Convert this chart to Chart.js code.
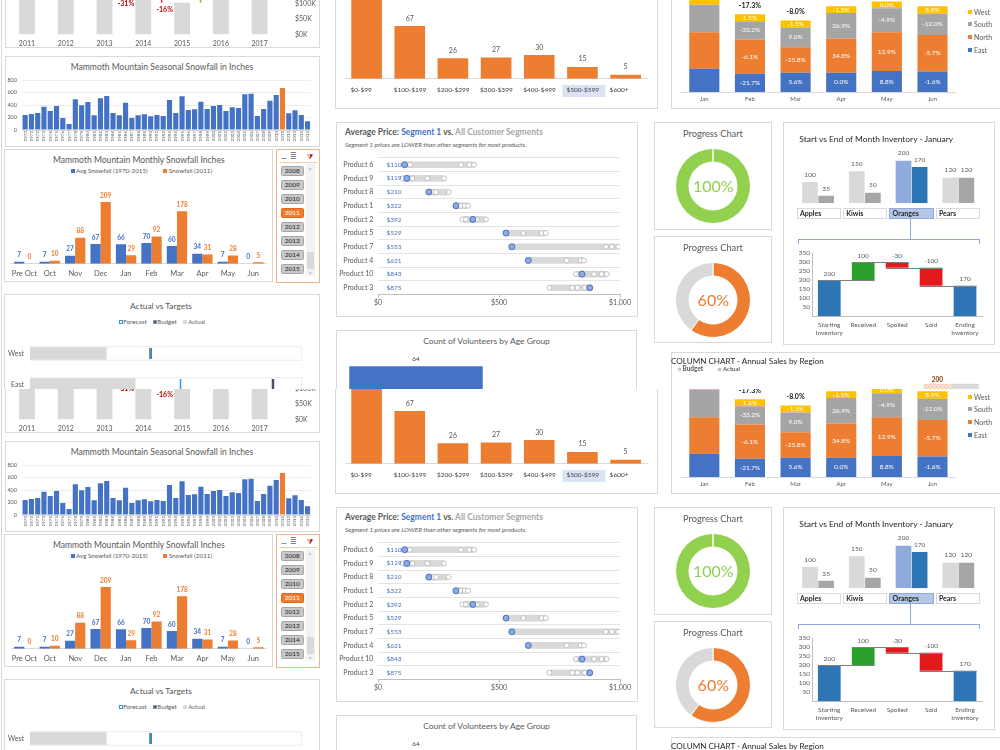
<!DOCTYPE html>
<html>
<head>
<meta charset="utf-8">
<title>Dashboard</title>
<script src="https://cdn.jsdelivr.net/npm/chart.js@4.4.1/dist/chart.umd.min.js"></script>
<style>
  html, body { margin: 0; padding: 0; background: #fff; }
  body { width: 1000px; height: 750px; position: relative; overflow: hidden; font-family: Lato, "Open Sans", sans-serif; }
  .clip { position: absolute; left: 0; width: 1000px; overflow: hidden; }
  .tile { position: absolute; left: 0; width: 1000px; height: 430px; }
  .box { position: absolute; box-sizing: border-box; border: 1px solid #D9D9D9; }
  .blk { position: absolute; box-sizing: border-box; }
  .txt { position: absolute; white-space: nowrap; line-height: 1; color: #595959; }
  canvas { position: absolute; }
</style>
</head>
<body>
<div class="clip" id="clipA" style="top:0;height:389px"></div>
<div class="clip" id="clipB" style="top:389px;height:361px"></div>
<script>
// ---- data ----
const annualYears = ['2011', '2012', '2013', '2014', '2015', '2016', '2017'];
const annualSales = [150000, 160000, 178000, 123000, 103000, 140000, 155000];

const seasonYears = ['1970', '1971', '1972', '1973', '1974', '1975', '1976', '1977', '1978', '1979',
  '1980', '1981', '1982', '1983', '1984', '1985', '1986', '1987', '1988', '1989',
  '1990', '1991', '1992', '1993', '1994', '1995', '1996', '1997', '1998', '1999',
  '2000', '2001', '2002', '2003', '2004', '2005', '2006', '2007', '2008', '2009',
  '2010', '2011', '2012', '2013', '2014', '2015'];
const seasonSnow = [240, 256, 272, 373, 304, 384, 192, 96, 491, 395,
  448, 235, 507, 544, 272, 235, 437, 192, 235, 251,
  219, 240, 224, 480, 272, 539, 320, 331, 453, 336,
  384, 400, 304, 363, 352, 571, 581, 224, 336, 469,
  560, 672, 267, 315, 240, 139];
const seasonPick = '2011';

const monthCats = ['Pre Oct', 'Oct', 'Nov', 'Dec', 'Jan', 'Feb', 'Mar', 'Apr', 'May', 'Jun'];
const avgSnow = [7, 7, 27, 67, 66, 70, 60, 34, 7, 0];
const snow2011 = [0, 10, 88, 209, 29, 92, 178, 31, 28, 5];
const slicerYears = ['2008', '2009', '2010', '2011', '2012', '2013', '2014', '2015'];

const targetRegions = ['West', 'East'];
const targetActual = [84, 116];
const targetForecast = [133, 166];
const targetBudget = [133, 268];
const targetMax = 300;

const priceBins = ['$0-$99', '$100-$199', '$200-$299', '$300-$399', '$400-$499', '$500-$599', '$600+'];
const priceCounts = [120, 67, 26, 27, 30, 15, 5];
const priceBinPick = '$500-$599';

const products = ['Product 6', 'Product 9', 'Product 8', 'Product 1', 'Product 2',
  'Product 5', 'Product 7', 'Product 4', 'Product 10', 'Product 3'];
const seg1Price = [110, 119, 210, 322, 392, 529, 553, 621, 843, 875];
const otherSegPrices = [[132, 343, 377, 397], [102, 142, 204, 273], [228, 240, 292], [340, 358, 372],
  [349, 363, 408, 446], [601, 676, 693], [942, 966, 993], [780, 838, 851],
  [818, 893, 924, 945], [708, 803, 824, 855]];

const progressValues = [100, 60];

const fruits = ['Apples', 'Kiwis', 'Oranges', 'Pears'];
const fruitStart = [100, 150, 200, 120];
const fruitEnd = [35, 50, 170, 120];
const fruitPick = 'Oranges';
const flowSteps = [['Starting', 'Inventory'], 'Received', 'Spoiled', 'Sold', ['Ending', 'Inventory']];
const flowValues = [200, 100, -30, -100, 170];
const flowTotals = [true, false, false, false, true];

const salesMonths = ['Jan', 'Feb', 'Mar', 'Apr', 'May', 'Jun'];
const eastSales = [233, 182, 193, 193, 210, 206];
const northSales = [365, 343, 254, 343, 387, 365];
const southSales = [274, 183, 199, 253, 241, 212];
const westSales = [69, 70, 69, 68, 68, 74];
const eastPct = ['', '-21.7%', '5.6%', '0.0%', '8.8%', '-1.6%'];
const northPct = ['', '-6.1%', '-25.8%', '34.8%', '12.9%', '-5.7%'];
const southPct = ['', '-33.2%', '9.0%', '26.9%', '-4.9%', '-12.0%'];
const westPct = ['', '1.5%', '-1.5%', '-1.5%', '0.0%', '8.9%'];
const totalPct = ['', '-17.3%', '-8.0%', '', '', ''];

const regionNames = ['East', 'North', 'South', 'West'];
const regionBudget = [150, 165, 140, 200];
const regionActual = [140, 150, 130, 200];

const volunteerGroups = ['18-24'];
const volunteerCounts = [64];

// ---- colours ----
const BLUE = '#4472C4';
const ORANGE = '#ED7D31';
const LIGHT = '#D9D9D9';
const TXT = '#595959';

Chart.defaults.font.family = 'Lato';
Chart.defaults.color = TXT;
Chart.defaults.animation = false;
Chart.defaults.events = [];
Chart.defaults.plugins.legend.display = false;
Chart.defaults.plugins.tooltip.enabled = false;

// labels above / inside bars
Chart.register({
  id: 'valueLabels',
  afterDatasetsDraw(chart, args, opts) {
    const ctx = chart.ctx;
    (opts.sets || []).forEach(s => {
      const meta = chart.getDatasetMeta(s.index);
      meta.data.forEach((bar, i) => {
        const t = s.labels ? s.labels[i] : chart.data.datasets[s.index].data[i];
        if (t === '' || t == null) return;
        const top = Math.min(bar.y, bar.base);
        const y = s.center ? (bar.y + bar.base) / 2 : top - (s.offset || 7);
        ctx.save();
        ctx.font = s.font || 'bold 6.5px Lato';
        ctx.fillStyle = Array.isArray(s.color) ? s.color[i] : (s.color || TXT);
        ctx.textAlign = 'center';
        ctx.textBaseline = 'middle';
        ctx.fillText(t, bar.x, y);
        ctx.restore();
      });
    });
  }
});

// ---- little helpers ----
function canvasAt(p, x, y, w, h) {
  const c = document.createElement('canvas');
  c.width = w; c.height = h;
  c.style.left = x + 'px'; c.style.top = y + 'px';
  c.style.width = w + 'px'; c.style.height = h + 'px';
  p.appendChild(c);
  return c;
}
function box(p, x, y, w, h, color) {
  const d = document.createElement('div');
  d.className = 'box';
  d.style.cssText += `left:${x}px;top:${y}px;width:${w}px;height:${h}px;`;
  if (color) d.style.borderColor = color;
  p.appendChild(d);
  return d;
}
function rect(p, x, y, w, h, bg) {
  const d = document.createElement('div');
  d.className = 'blk';
  d.style.cssText += `left:${x}px;top:${y}px;width:${w}px;height:${h}px;background:${bg};`;
  p.appendChild(d);
  return d;
}
function txt(p, s, x, y, o = {}) {
  const d = document.createElement('div');
  d.className = 'txt';
  d.textContent = s;
  const size = o.size || 7;
  const tx = o.align === 'center' ? '-50%' : o.align === 'right' ? '-100%' : '0';
  d.style.left = x + 'px';
  d.style.top = y + 'px';
  d.style.fontSize = size + 'px';
  d.style.color = o.color || TXT;
  if (o.bold) d.style.fontWeight = 'bold';
  if (o.italic) d.style.fontStyle = 'italic';
  d.style.transform = `translate(${tx},-50%)`;
  p.appendChild(d);
  if (o.w) {
    const cur = d.getBoundingClientRect().width;
    if (cur > 0) d.style.fontSize = (size * o.w / cur) + 'px';
  }
  return d;
}
// grid off AND no tick marks, so Chart.js adds no tick length to label offsets
const noGrid = { display: false, drawTicks: false };
const noBorder = { display: false };
// vertical axes: gap between labels and plot through an invisible tick length
// (ticks.padding would also pad the plot top and bottom)
const gapGrid = n => ({ display: false, drawTicks: true, tickLength: n });

function waterfallRanges() {
  let run = 0;
  return flowValues.map((v, i) => {
    if (flowTotals[i]) { run = v; return [0, v]; }
    const r = [run, run + v];
    run += v;
    return r;
  });
}

const variancePlugin = {
  id: 'variance',
  afterDatasetsDraw(chart) {
    const { ctx, scales: { x, y } } = chart;
    const d = chart.data.datasets[0].data;
    for (let i = 0; i < d.length - 1; i++) {
      const pct = Math.round((d[i + 1] / d[i] - 1) * 100);
      const xm = (x.getPixelForValue(i) + x.getPixelForValue(i + 1)) / 2;
      const ya = y.getPixelForValue(d[i]), yb = y.getPixelForValue(d[i + 1]);
      const neg = pct < 0;
      ctx.save();
      ctx.strokeStyle = neg ? '#E03030' : '#70C040';
      ctx.lineWidth = 1.5;
      ctx.beginPath(); ctx.moveTo(xm - 1, ya); ctx.lineTo(xm - 1, yb); ctx.stroke();
      ctx.font = 'bold 7px Lato';
      ctx.fillStyle = neg ? '#C00000' : '#548235';
      ctx.textAlign = 'center';
      ctx.textBaseline = 'middle';
      const ty = neg ? Math.max(ya, yb) + 7.5 : Math.min(ya, yb) - 7.5;
      ctx.fillText((pct > 0 ? '+' : '') + pct + '%', xm + 2, ty);
      ctx.restore();
    }
  }
};

const binHighlight = {
  id: 'binHighlight',
  beforeDraw(chart) {
    const x = chart.scales.x;
    const i = chart.data.labels.indexOf(priceBinPick);
    if (i < 0) return;
    const ctx = chart.ctx;
    ctx.save();
    ctx.fillStyle = '#DAE3F3';
    ctx.fillRect(x.getPixelForValue(i) - 20, x.top + 6.3, 43, 12);
    ctx.restore();
  }
};

const priceTags = {
  id: 'priceTags',
  afterDatasetsDraw(chart) {
    const { ctx, chartArea, scales: { y } } = chart;
    ctx.save();
    ctx.font = '6.5px Lato';
    ctx.fillStyle = BLUE;
    ctx.textBaseline = 'middle';
    seg1Price.forEach((v, i) => ctx.fillText('$' + v, chartArea.left + 8.5, y.getPixelForValue(i)));
    ctx.restore();
  }
};

const flowLinks = {
  id: 'flowLinks',
  afterDatasetsDraw(chart) {
    const { ctx, scales: { y } } = chart;
    const bars = chart.getDatasetMeta(0).data;
    const ranges = chart.data.datasets[0].data;
    ctx.save();
    ctx.strokeStyle = '#7F7F7F';
    ctx.lineWidth = 1;
    for (let i = 0; i < bars.length - 1; i++) {
      const py = Math.round(y.getPixelForValue(ranges[i][1])) + 0.5;
      ctx.beginPath();
      ctx.moveTo(bars[i].x - bars[i].width / 2, py);
      ctx.lineTo(bars[i + 1].x + bars[i + 1].width / 2, py);
      ctx.stroke();
    }
    ctx.restore();
  }
};

function hatch() {
  const c = document.createElement('canvas');
  c.width = 4; c.height = 4;
  const g = c.getContext('2d');
  g.fillStyle = '#FBE2D0'; g.fillRect(0, 0, 4, 4);
  g.fillStyle = '#F4B183'; g.fillRect(0, 0, 1, 1); g.fillRect(2, 2, 1, 1);
  return g.createPattern(c, 'repeat');
}

function buildTile(tile) {
  rect(tile, 1, -10, 1, 440, LIGHT);

  // ===== annual sales (only the bottom is showing) =====
  box(tile, 5, -20, 315, 67.5);
  new Chart(canvasAt(tile, 5, -124, 315, 171), {
    type: 'bar',
    data: { labels: annualYears, datasets: [{ data: annualSales, backgroundColor: LIGHT, categoryPercentage: 0.82, barPercentage: 0.5 }] },
    options: {
      responsive: false,
      layout: { padding: { left: 2.6 } },
      scales: {
        x: { grid: noGrid, border: noBorder, ticks: { font: { size: 7 }, padding: 4.6, maxRotation: 0 }, afterFit: s => { s.height = 12.5; } },
        y: { position: 'right', min: 0, max: 500000, grid: gapGrid(16), border: noBorder,
          ticks: { stepSize: 50000, padding: 0, font: { size: 7 }, callback: v => '$' + v / 1000 + 'K' },
          afterFit: s => { s.width = 41; } }
      }
    },
    plugins: [variancePlugin]
  });

  // ===== seasonal snowfall =====
  box(tile, 5, 55.5, 314.5, 91.5);
  txt(tile, 'Mammoth Mountain Seasonal Snowfall in Inches', 162, 66.5, { size: 10, align: 'center', w: 183 });
  new Chart(canvasAt(tile, 6, 72, 308, 74), {
    type: 'bar',
    data: { labels: seasonYears, datasets: [{ data: seasonSnow, backgroundColor: seasonYears.map(y => y === seasonPick ? ORANGE : BLUE), categoryPercentage: 1, barPercentage: 0.82 }] },
    options: {
      responsive: false,
      layout: { padding: { top: 8, right: 2 } },
      scales: {
        x: { grid: noGrid, border: { color: LIGHT }, ticks: { autoSkip: false, minRotation: 90, maxRotation: 90, font: { size: 4.5 }, padding: 1 }, afterFit: s => { s.height = 16; } },
        y: { min: 0, max: 800, grid: { color: '#EDEDED', drawTicks: true, tickLength: 5, tickColor: 'rgba(0,0,0,0)' }, border: noBorder,
          ticks: { stepSize: 100, font: { size: 5.5 }, padding: 0 }, afterFit: s => { s.width = 16; } }
      }
    }
  });

  // ===== monthly snowfall =====
  box(tile, 4, 149, 268.5, 133);
  txt(tile, 'Mammoth Mountain Monthly Snowfall Inches', 138.8, 160, { size: 10, align: 'center', w: 172 });
  rect(tile, 71, 169.3, 3.5, 3.5, BLUE);
  txt(tile, 'Avg Snowfall (1970-2015)', 76, 171, { size: 7, w: 71.7 });
  rect(tile, 163.3, 169.3, 3.5, 3.5, ORANGE);
  txt(tile, 'Snowfall (2011)', 168.7, 171, { size: 7, w: 43.6 });
  new Chart(canvasAt(tile, 6, 190, 264, 92), {
    type: 'bar',
    data: {
      labels: monthCats,
      datasets: [
        { label: 'Avg Snowfall (1970-2015)', data: avgSnow, backgroundColor: BLUE, categoryPercentage: 0.8, barPercentage: 1 },
        { label: 'Snowfall (2011)', data: snow2011, backgroundColor: ORANGE, categoryPercentage: 0.8, barPercentage: 1 }
      ]
    },
    options: {
      responsive: false,
      layout: { padding: { left: 5, right: 4 } },
      scales: {
        x: { grid: noGrid, border: { color: LIGHT }, ticks: { font: { size: 7.5 }, padding: 5.5, maxRotation: 0, autoSkip: false }, afterFit: s => { s.height = 18.25; } },
        y: { display: false, min: 0, max: 250 }
      },
      plugins: { valueLabels: { sets: [
        { index: 0, color: BLUE, offset: 6.5 },
        { index: 1, color: ORANGE, offset: 6.5 }
      ] } }
    }
  });

  // year slicer
  box(tile, 276, 149, 43.5, 133.5, '#F4B183');
  txt(tile, '...', 281.5, 155.5, { size: 7, color: '#404040', bold: true });
  txt(tile, '\u2263', 290, 156, { size: 8, color: '#7F7F7F' });
  txt(tile, '\u29E9', 306.5, 156, { size: 7, color: '#C00000' });
  rect(tile, 279, 161.5, 38, 1, '#F8CBAD');
  rect(tile, 306, 164, 8.5, 112, '#F2F2F2');
  rect(tile, 306.5, 251.5, 7.5, 17.5, LIGHT);
  txt(tile, '\u02C4', 310.2, 170, { size: 6, align: 'center', color: '#7F7F7F' });
  txt(tile, '\u02C5', 310.2, 274, { size: 6, align: 'center', color: '#7F7F7F' });
  slicerYears.forEach((yr, i) => {
    const on = yr === '2011';
    const b = rect(tile, 281, 165.7 + 14 * i, 22.5, 10, on ? ORANGE : '#C8C8C8');
    b.style.border = '1px solid ' + (on ? '#E0661C' : '#A6A6A6');
    b.style.borderRadius = '1.5px';
    txt(tile, yr, 292.3, 170.9 + 14 * i, { size: 6.5, align: 'center', color: on ? '#FFFFFF' : '#262626' });
  });

  // ===== actual vs targets =====
  box(tile, 4, 294, 315.5, 140);
  txt(tile, 'Actual vs Targets', 161, 305.7, { size: 10, align: 'center', w: 62 });
  const fc = rect(tile, 119.3, 320.3, 3.5, 3.5, '#FFFFFF'); fc.style.border = '1px solid #2E9BDA';
  txt(tile, 'Forecast', 123.3, 322, { size: 6.5, w: 23.4 });
  const bu = rect(tile, 152.7, 320, 4, 4, '#44546A'); bu.style.border = '1px solid #8497B0';
  txt(tile, 'Budget', 157.3, 322, { size: 6.5, w: 19.4 });
  rect(tile, 183.3, 320.3, 3.5, 3.5, LIGHT);
  txt(tile, 'Actual', 188.3, 322, { size: 6.5, w: 16.7 });
  new Chart(canvasAt(tile, 4, 330, 306, 78), {
    type: 'bar',
    data: {
      labels: targetRegions,
      datasets: [
        { type: 'scatter', label: 'Forecast', data: targetForecast.map((v, i) => ({ x: v, y: targetRegions[i] })),
          pointStyle: 'line', pointRotation: 90, pointRadius: 5.5, pointBorderWidth: 1.5, pointBorderColor: '#2E9BDA', order: 1 },
        { type: 'scatter', label: 'Budget', data: targetBudget.map((v, i) => ({ x: v, y: targetRegions[i] })),
          pointStyle: 'line', pointRotation: 90, pointRadius: 5.5, pointBorderWidth: 2.5, pointBorderColor: '#44546A', order: 2 },
        { label: 'Actual', data: targetActual, backgroundColor: LIGHT, barThickness: 11.6, grouped: false, order: 3 },
        { label: 'Track', data: targetRegions.map(() => targetMax), backgroundColor: '#FFFFFF', borderColor: '#E4E4E4', borderWidth: 1, barThickness: 14, grouped: false, order: 4 }
      ]
    },
    options: {
      responsive: false,
      indexAxis: 'y',
      layout: { padding: { top: 5, bottom: 5, right: 3.3 } },
      scales: {
        x: { type: 'linear', display: false, min: 0, max: targetMax },
        y: { type: 'category', grid: gapGrid(6), border: noBorder, ticks: { font: { size: 7 }, padding: 0 }, afterFit: s => { s.width = 26; } }
      }
    }
  });

  // ===== price histogram (bottom part) =====
  box(tile, 335, -20, 323, 128.5);
  new Chart(canvasAt(tile, 340, -55, 312, 155), {
    type: 'bar',
    data: { labels: priceBins, datasets: [{ data: priceCounts, backgroundColor: ORANGE, categoryPercentage: 1, barPercentage: 0.71 }] },
    options: {
      responsive: false,
      layout: { padding: { left: 5, right: 2 } },
      scales: {
        x: { grid: noGrid, border: { color: LIGHT }, ticks: { font: { size: 6.5 }, color: '#404040', align: 'start', labelOffset: -16, padding: 7.4, maxRotation: 0 }, afterFit: s => { s.height = 21.3; } },
        y: { display: false, min: 0, max: 170 }
      },
      plugins: { valueLabels: { sets: [{ index: 0, color: TXT, offset: 7.7, font: '7px Lato' }] } }
    },
    plugins: [binHighlight]
  });

  // ===== average price dot plot =====
  box(tile, 336, 122, 302, 195);
  const tt = document.createElement('div');
  tt.className = 'txt';
  tt.style.cssText += 'left:345px;top:132px;font-size:9px;font-weight:bold;transform:translate(0,-50%);';
  tt.innerHTML = '<span style="color:#595959">Average Price: </span><span style="color:#4472C4">Segment 1</span>' +
    '<span style="color:#595959"> vs. </span><span style="color:#A6A6A6">All Customer Segments</span>';
  tile.appendChild(tt);
  tt.style.fontSize = (9 * 198 / tt.getBoundingClientRect().width) + 'px';
  txt(tile, 'Segment 1 prices are LOWER than other segments for most products.', 345, 145, { size: 5.5, italic: true, w: 182 });
  const dotRanges = products.map((p, i) => [Math.min(seg1Price[i], ...otherSegPrices[i]), Math.max(seg1Price[i], ...otherSegPrices[i])]);
  const otherPts = [];
  otherSegPrices.forEach((arr, i) => arr.forEach(v => otherPts.push({ x: v, y: products[i] })));
  new Chart(canvasAt(tile, 336, 152, 300, 158), {
    type: 'bar',
    data: {
      labels: products,
      datasets: [
        { type: 'scatter', label: 'Segment 1', data: seg1Price.map((v, i) => ({ x: v, y: products[i] })),
          pointRadius: 3, pointBackgroundColor: '#8FAADC', pointBorderColor: BLUE, pointBorderWidth: 1, order: 1 },
        { type: 'scatter', label: 'Other segments', data: otherPts,
          pointRadius: 2.5, pointBackgroundColor: '#FFFFFF', pointBorderColor: '#BFBFBF', pointBorderWidth: 1, order: 2 },
        { label: 'Range', data: dotRanges, backgroundColor: LIGHT, barThickness: 6, borderRadius: 3, borderSkipped: false, order: 3 }
      ]
    },
    options: {
      responsive: false,
      indexAxis: 'y',
      layout: { padding: { top: 5.9, right: 16 } },
      scales: {
        x: { type: 'linear', min: 0, max: 1000,
          grid: { drawOnChartArea: false, drawTicks: true, tickLength: 3, color: '#BFBFBF' }, border: { color: '#BFBFBF' },
          ticks: { stepSize: 500, font: { size: 7 }, padding: 1.3, callback: v => '$' + v.toLocaleString('en-US') },
          afterFit: s => { s.height = 15.4; } },
        y: { type: 'category', grid: { offset: true, color: '#E4E4E4', drawTicks: true, tickLength: 4.7, tickColor: 'rgba(0,0,0,0)' }, border: noBorder,
          ticks: { font: { size: 7 }, padding: 0 }, afterFit: s => { s.width = 42; } }
      }
    },
    plugins: [priceTags]
  });

  // ===== volunteers (top part) =====
  box(tile, 335.5, 330, 301, 90);
  txt(tile, 'Count of Volunteers by Age Group', 486.5, 341, { size: 10, align: 'center', w: 127 });
  new Chart(canvasAt(tile, 345, 350, 142, 81), {
    type: 'bar',
    data: { labels: volunteerGroups, datasets: [{ data: volunteerCounts, backgroundColor: BLUE, categoryPercentage: 1, barPercentage: 0.94 }] },
    options: {
      responsive: false,
      scales: { x: { display: false }, y: { display: false, min: 0, max: 80 } },
      plugins: { valueLabels: { sets: [{ index: 0, color: '#404040', offset: 7.2, font: '6.5px Lato' }] } }
    }
  });

  // ===== stacked monthly sales (bottom part) =====
  box(tile, 670.5, -20, 340, 129.3);
  new Chart(canvasAt(tile, 672, -40, 300, 145), {
    type: 'bar',
    data: {
      labels: salesMonths,
      datasets: [
        { label: 'East', data: eastSales, backgroundColor: BLUE },
        { label: 'North', data: northSales, backgroundColor: ORANGE },
        { label: 'South', data: southSales, backgroundColor: '#A5A5A5' },
        { label: 'West', data: westSales, backgroundColor: '#FFC000' }
      ]
    },
    options: {
      responsive: false,
      datasets: { bar: { categoryPercentage: 1, barPercentage: 0.66 } },
      layout: { padding: { left: 9.5, right: 16.7, top: 2 } },
      scales: {
        x: { stacked: true, grid: noGrid, border: { color: LIGHT }, ticks: { font: { size: 6 }, padding: 3.1, maxRotation: 0 }, afterFit: s => { s.height = 13; } },
        y: { stacked: true, display: false, min: 0, max: 1300 }
      },
      plugins: { valueLabels: { sets: [
        { index: 0, labels: eastPct, center: true, color: '#FFFFFF', font: '6.5px Lato' },
        { index: 1, labels: northPct, center: true, color: '#FFFFFF', font: '6.5px Lato' },
        { index: 2, labels: southPct, center: true, color: '#FFFFFF', font: '6.5px Lato' },
        { index: 3, labels: westPct, center: true, color: '#FFFFFF', font: '6.5px Lato' },
        { index: 3, labels: totalPct, offset: 8.3, color: '#262626', font: 'bold 7px Lato' }
      ] } }
    }
  });
  [['West', '#FFC000', 12.3], ['South', '#A5A5A5', 24.3], ['North', ORANGE, 37], ['East', BLUE, 50]].forEach(([n, c, y]) => {
    rect(tile, 968.3, y - 2, 4, 4, c);
    txt(tile, n, 974, y, { size: 7 });
  });

  // ===== progress donuts =====
  const donutCols = [['#92D050', LIGHT], [ORANGE, LIGHT]];
  [122, 235.7].forEach((top, k) => {
    box(tile, 654, top, 118, k === 0 ? 108 : 107.3);
    txt(tile, 'Progress  Chart', 713, top + 12.3, { size: 10, align: 'center', w: 60 });
    new Chart(canvasAt(tile, 674, top + 25, 78, 78), {
      type: 'doughnut',
      data: { labels: ['Done', 'Left'], datasets: [{ data: [progressValues[k], 100 - progressValues[k]], backgroundColor: donutCols[k], borderColor: '#FFFFFF', borderWidth: 1 }] },
      options: { responsive: false, cutout: '64%', layout: { padding: 1 } }
    });
    txt(tile, progressValues[k] + '%', 713.3, top + 64, { size: 16, align: 'center', color: donutCols[k][0] });
  });

  // ===== inventory panel =====
  box(tile, 783, 122, 212, 223);
  txt(tile, 'Start vs End of Month Inventory - January', 799.3, 139, { size: 9, color: '#262626', w: 154 });
  new Chart(canvasAt(tile, 791, 148, 192, 56), {
    type: 'bar',
    data: {
      labels: fruits,
      datasets: [
        { label: 'Start', data: fruitStart, backgroundColor: fruits.map(f => f === fruitPick ? '#8FAADC' : LIGHT) },
        { label: 'End', data: fruitEnd, backgroundColor: fruits.map(f => f === fruitPick ? '#2E75B6' : '#A6A6A6') }
      ]
    },
    options: {
      responsive: false,
      datasets: { bar: { categoryPercentage: 0.69, barPercentage: 0.97 } },
      layout: { padding: { left: 3.7, right: 1.3, top: 10.6, bottom: 0.7 } },
      scales: { x: { display: false }, y: { display: false, min: 0, max: 210 } },
      plugins: { valueLabels: { sets: [
        { index: 0, color: TXT, offset: 7.4, font: '6.5px Lato' },
        { index: 1, color: TXT, offset: 7.4, font: '6.5px Lato' }
      ] } }
    }
  });
  fruits.forEach((f, i) => {
    const on = f === fruitPick;
    const b = box(tile, 796.7 + 46.3 * i, 208, 44.3, 10.5, on ? '#8FAADC' : LIGHT);
    if (on) b.style.background = '#B4C7E7';
    txt(tile, f, 800 + 46.3 * i, 213.3, { size: 7, color: '#262626', bold: true });
  });
  rect(tile, 910, 218.5, 1, 20.5, '#8FAADC');
  rect(tile, 797.7, 238.5, 182.5, 1, '#8FAADC');
  rect(tile, 797.7, 238.5, 1, 5, '#8FAADC');
  rect(tile, 979.2, 238.5, 1, 5, '#8FAADC');

  const flowRanges = waterfallRanges();
  new Chart(canvasAt(tile, 797, 246, 189, 94), {
    type: 'bar',
    data: {
      labels: flowSteps,
      datasets: [{ data: flowRanges,
        backgroundColor: flowValues.map((v, i) => flowTotals[i] ? '#2E75B6' : v >= 0 ? '#2CA02C' : '#E31A1C'),
        categoryPercentage: 1, barPercentage: 0.67 }]
    },
    options: {
      responsive: false,
      layout: { padding: { top: 7.3, right: 4 } },
      scales: {
        x: { grid: noGrid, border: { color: '#BFBFBF' }, ticks: { font: { size: 6.5 }, padding: 4.8, maxRotation: 0 }, afterFit: s => { s.height = 23.7; } },
        y: { min: 0, max: 350, grid: gapGrid(2.3), border: { color: '#BFBFBF' },
          ticks: { stepSize: 50, font: { size: 6.5 }, padding: 0, autoSkip: false, callback: v => v === 0 ? '' : v },
          afterFit: s => { s.width = 15.3; } }
      },
      plugins: { valueLabels: { sets: [{ index: 0, labels: flowValues.map(String), color: TXT, offset: 6.5, font: '6.5px Lato' }] } }
    },
    plugins: [flowLinks]
  });

  // ===== column chart (top part) =====
  box(tile, 670.5, 351.7, 340, 80);
  txt(tile, 'COLUMN CHART - Annual Sales by Region', 671, 360.7, { size: 9.5, color: '#262626', w: 153 });
  const lb = rect(tile, 678.3, 367.8, 3, 3, '#FFFFFF'); lb.style.border = '1px solid #BFBFBF';
  txt(tile, 'Budget', 682.5, 369.3, { size: 6, bold: true, w: 20.8 });
  rect(tile, 718.3, 367.8, 3, 3, '#BFBFBF');
  txt(tile, 'Actual', 723, 369.3, { size: 6, bold: true, w: 17 });
  new Chart(canvasAt(tile, 680, 374, 310, 210), {
    type: 'bar',
    data: {
      labels: regionNames,
      datasets: [
        { label: 'Budget', data: regionBudget, backgroundColor: hatch(), borderColor: '#F8CBAD', borderWidth: 0.5 },
        { label: 'Actual', data: regionActual, backgroundColor: LIGHT, borderColor: '#BFBFBF', borderWidth: 0.5 }
      ]
    },
    options: {
      responsive: false,
      datasets: { bar: { categoryPercentage: 0.72, barPercentage: 1 } },
      layout: { padding: { top: 9.5 } },
      scales: { x: { display: false }, y: { display: false, min: 0, max: 200 } },
      plugins: { valueLabels: { sets: [{ index: 0, color: '#843C0C', offset: 3.3, font: 'bold 6.5px Lato' }] } }
    }
  });
}

function makeTile(clipId, top) {
  const t = document.createElement('div');
  t.className = 'tile';
  t.style.top = top + 'px';
  document.getElementById(clipId).appendChild(t);
  buildTile(t);
}

function inicio() {
  makeTile('clipA', 0);
  makeTile('clipB', -4);
}

document.addEventListener('DOMContentLoaded', inicio);
</script>
</body>
</html>
